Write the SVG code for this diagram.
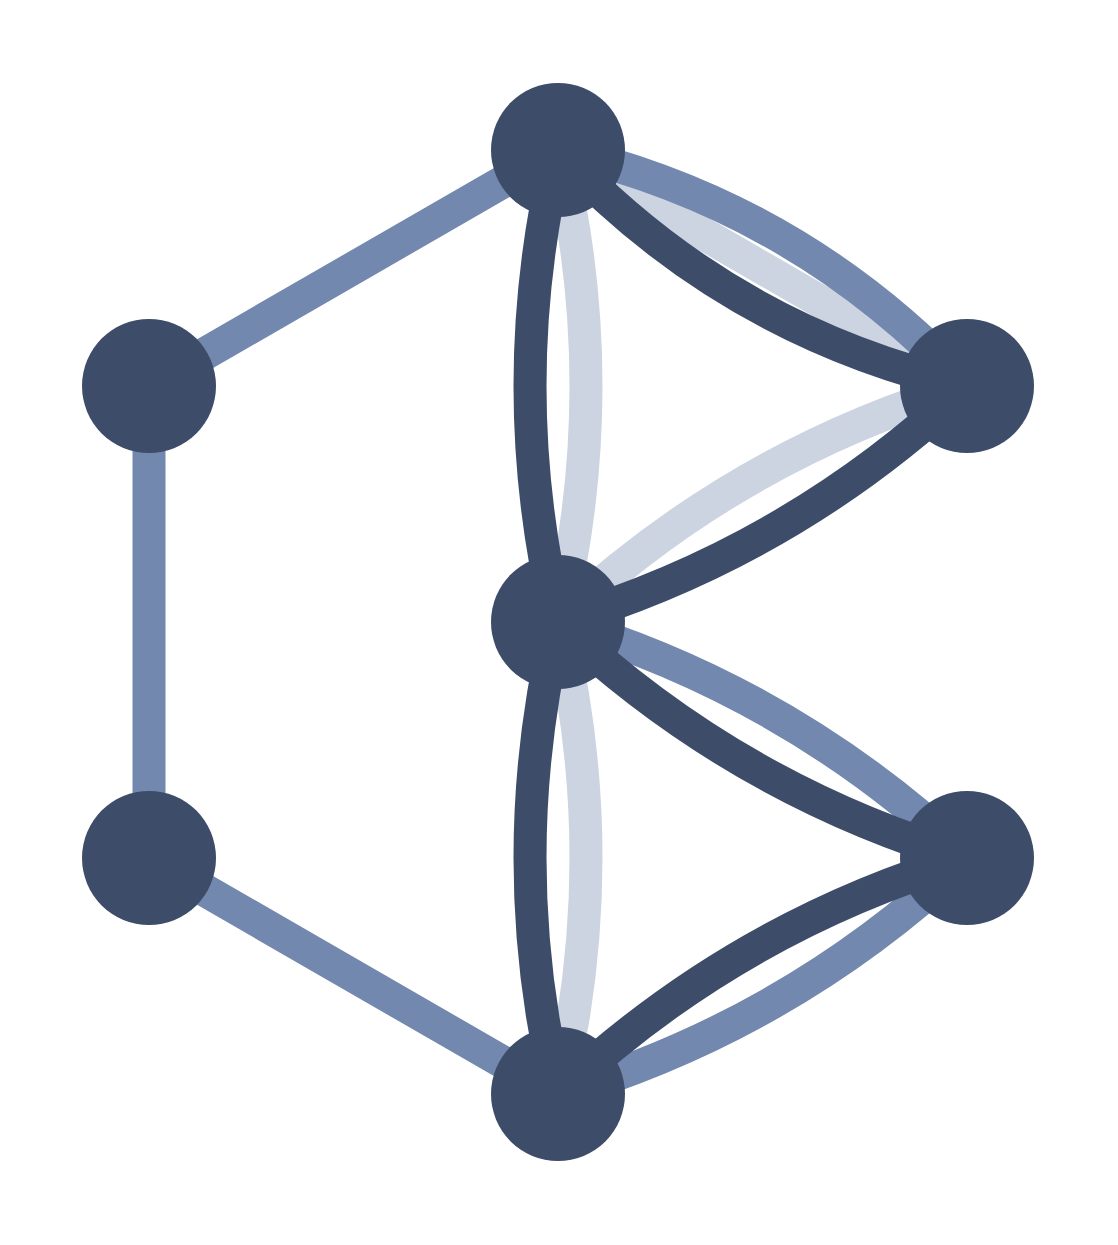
<svg xmlns="http://www.w3.org/2000/svg" width="1118" height="1245" viewBox="0 0 1118 1245">
<style>
.e{fill:none;stroke-width:33}
.l{stroke:#ccd4e1}
.m{stroke:#7388ae}
.d{stroke:#3d4c69}
.n{fill:#3d4c69}
</style>
<rect width="1118" height="1245" fill="#ffffff"/>
<g id="edges">
<path class="e l" d="M558,150 L967,386"/>
<path class="e l" d="M558,150 Q614,386 558,622"/>
<path class="e l" d="M558,622 Q734.5,455.5 967,386"/>
<path class="e l" d="M558,622 Q614,858 558,1094"/>
<path class="e m" d="M558,150 L149,386"/>
<path class="e m" d="M149,386 L149,858"/>
<path class="e m" d="M149,858 L558,1094"/>
<path class="e m" d="M558,150 Q798.5,205.6 967,386"/>
<path class="e m" d="M558,622 Q790.5,691.5 967,858"/>
<path class="e m" d="M558,1094 Q790.5,1024.5 967,858"/>
<path class="e d" d="M558,150 Q502,386 558,622"/>
<path class="e d" d="M558,622 Q502,858 558,1094"/>
<path class="e d" d="M558,150 Q726.5,330.4 967,386"/>
<path class="e d" d="M558,622 Q790.5,552.5 967,386"/>
<path class="e d" d="M558,622 Q734.5,788.5 967,858"/>
<path class="e d" d="M558,1094 Q734.5,927.5 967,858"/>
</g>
<g id="n-top"><circle class="n" cx="558" cy="150" r="67"/></g>
<g id="n-left-upper"><circle class="n" cx="149" cy="386" r="67"/></g>
<g id="n-left-lower"><circle class="n" cx="149" cy="858" r="67"/></g>
<g id="n-middle"><circle class="n" cx="558" cy="622" r="67"/></g>
<g id="n-right-upper"><circle class="n" cx="967" cy="386" r="67"/></g>
<g id="n-right-lower"><circle class="n" cx="967" cy="858" r="67"/></g>
<g id="n-bottom"><circle class="n" cx="558" cy="1094" r="67"/></g>
</svg>
